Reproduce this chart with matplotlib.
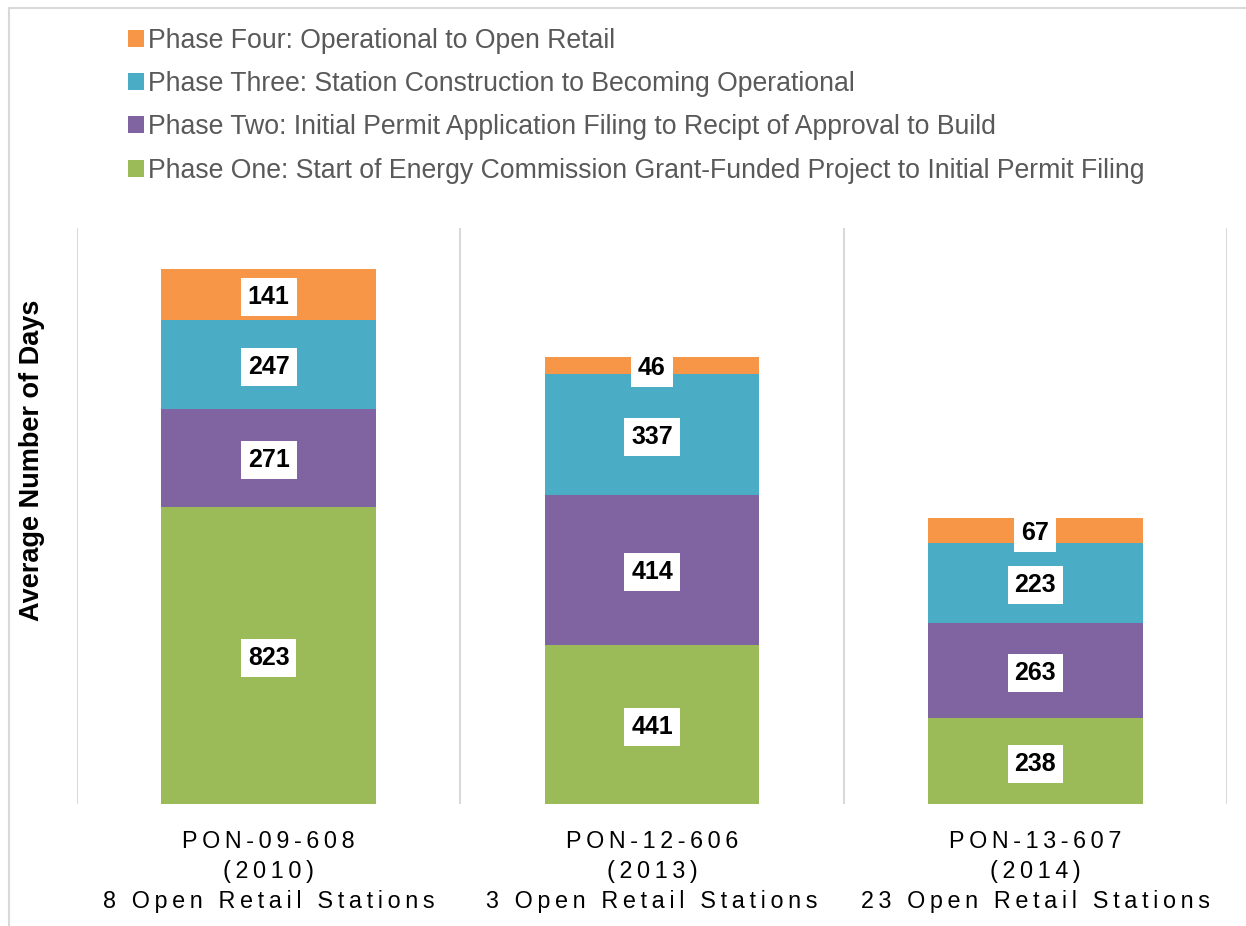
import matplotlib
matplotlib.use("Agg")
import matplotlib.pyplot as plt
from matplotlib.patches import Patch
from matplotlib.lines import Line2D
import numpy as np

plt.rcParams['font.family'] = ['Liberation Sans', 'DejaVu Sans']

categories = ["PON-09-608\n(2010)\n8 Open Retail Stations",
              "PON-12-606\n(2013)\n3 Open Retail Stations",
              "PON-13-607\n(2014)\n23 Open Retail Stations"]
phase_one = [823, 441, 238]
phase_two = [271, 414, 263]
phase_three = [247, 337, 223]
phase_four = [141, 46, 67]
series_names = ["Phase One: Start of Energy Commission Grant-Funded Project to Initial Permit Filing",
                "Phase Two: Initial Permit Application Filing to Recipt of Approval to Build",
                "Phase Three: Station Construction to Becoming Operational",
                "Phase Four: Operational to Open Retail"]
colors = ["#9BBB59", "#8064A2", "#4BACC6", "#F79646"]

W, H = 1246, 926
fig = plt.figure(figsize=(W / 100, H / 100), dpi=100)
ax = fig.add_axes([77 / W, 1 - 804 / H, (1227 - 77) / W, (804 - 228) / H])

x = np.arange(len(categories))
bottom = np.zeros(len(categories))
for vals, c in zip([phase_one, phase_two, phase_three, phase_four], colors):
    ax.bar(x, vals, width=0.56, bottom=bottom, color=c, zorder=3)
    for xi, b, v in zip(x, bottom, vals):
        ax.text(xi, b + v / 2, str(v), ha='center', va='center_baseline', fontsize=18,
                fontweight='bold', color='black', zorder=5,
                bbox=dict(boxstyle='square,pad=0.28', fc='white', ec='none'))
    bottom = bottom + np.array(vals)

ax.set_xlim(-0.5, len(categories) - 0.5)
ax.set_ylim(0, 1595)
for b in np.arange(-0.5, len(categories), 1.0):
    ax.axvline(b, color='#D9D9D9', lw=1.5, zorder=1)
for s in ax.spines.values():
    s.set_visible(False)
ax.set_yticks([])
ax.set_xticks(x)

def spaced(t):
    return "\n".join("\u2009".join(list(line)) for line in t.split("\n"))

ax.set_xticklabels([spaced(c) for c in categories], fontsize=16.8, color='black',
                   linespacing=1.38)
ax.tick_params(axis='x', length=0, pad=19)

fig.text(32 / W, 1 - 460 / H, "Average Number of Days", rotation=90, ha='center',
         va='center', fontsize=19.5, fontweight='bold', color='black')

handles = [Patch(facecolor=c, edgecolor='none') for c in colors][::-1]
leg = fig.legend(handles, series_names[::-1], loc='upper left',
                 bbox_to_anchor=(117 / W, 1 - 17 / H), frameon=False,
                 fontsize=19.2, handlelength=0.6, handleheight=0.6,
                 handletextpad=0.15, labelspacing=0.65, borderaxespad=0)
for t in leg.get_texts():
    t.set_color('#595959')

# outer frame
fig.add_artist(Line2D([9 / W, 9 / W], [0, 1 - 8 / H], color='#D9D9D9', lw=1.5,
                      transform=fig.transFigure))
fig.add_artist(Line2D([9 / W, 1], [1 - 8 / H, 1 - 8 / H], color='#D9D9D9', lw=1.5,
                      transform=fig.transFigure))

fig.savefig("out.png", dpi=100)
